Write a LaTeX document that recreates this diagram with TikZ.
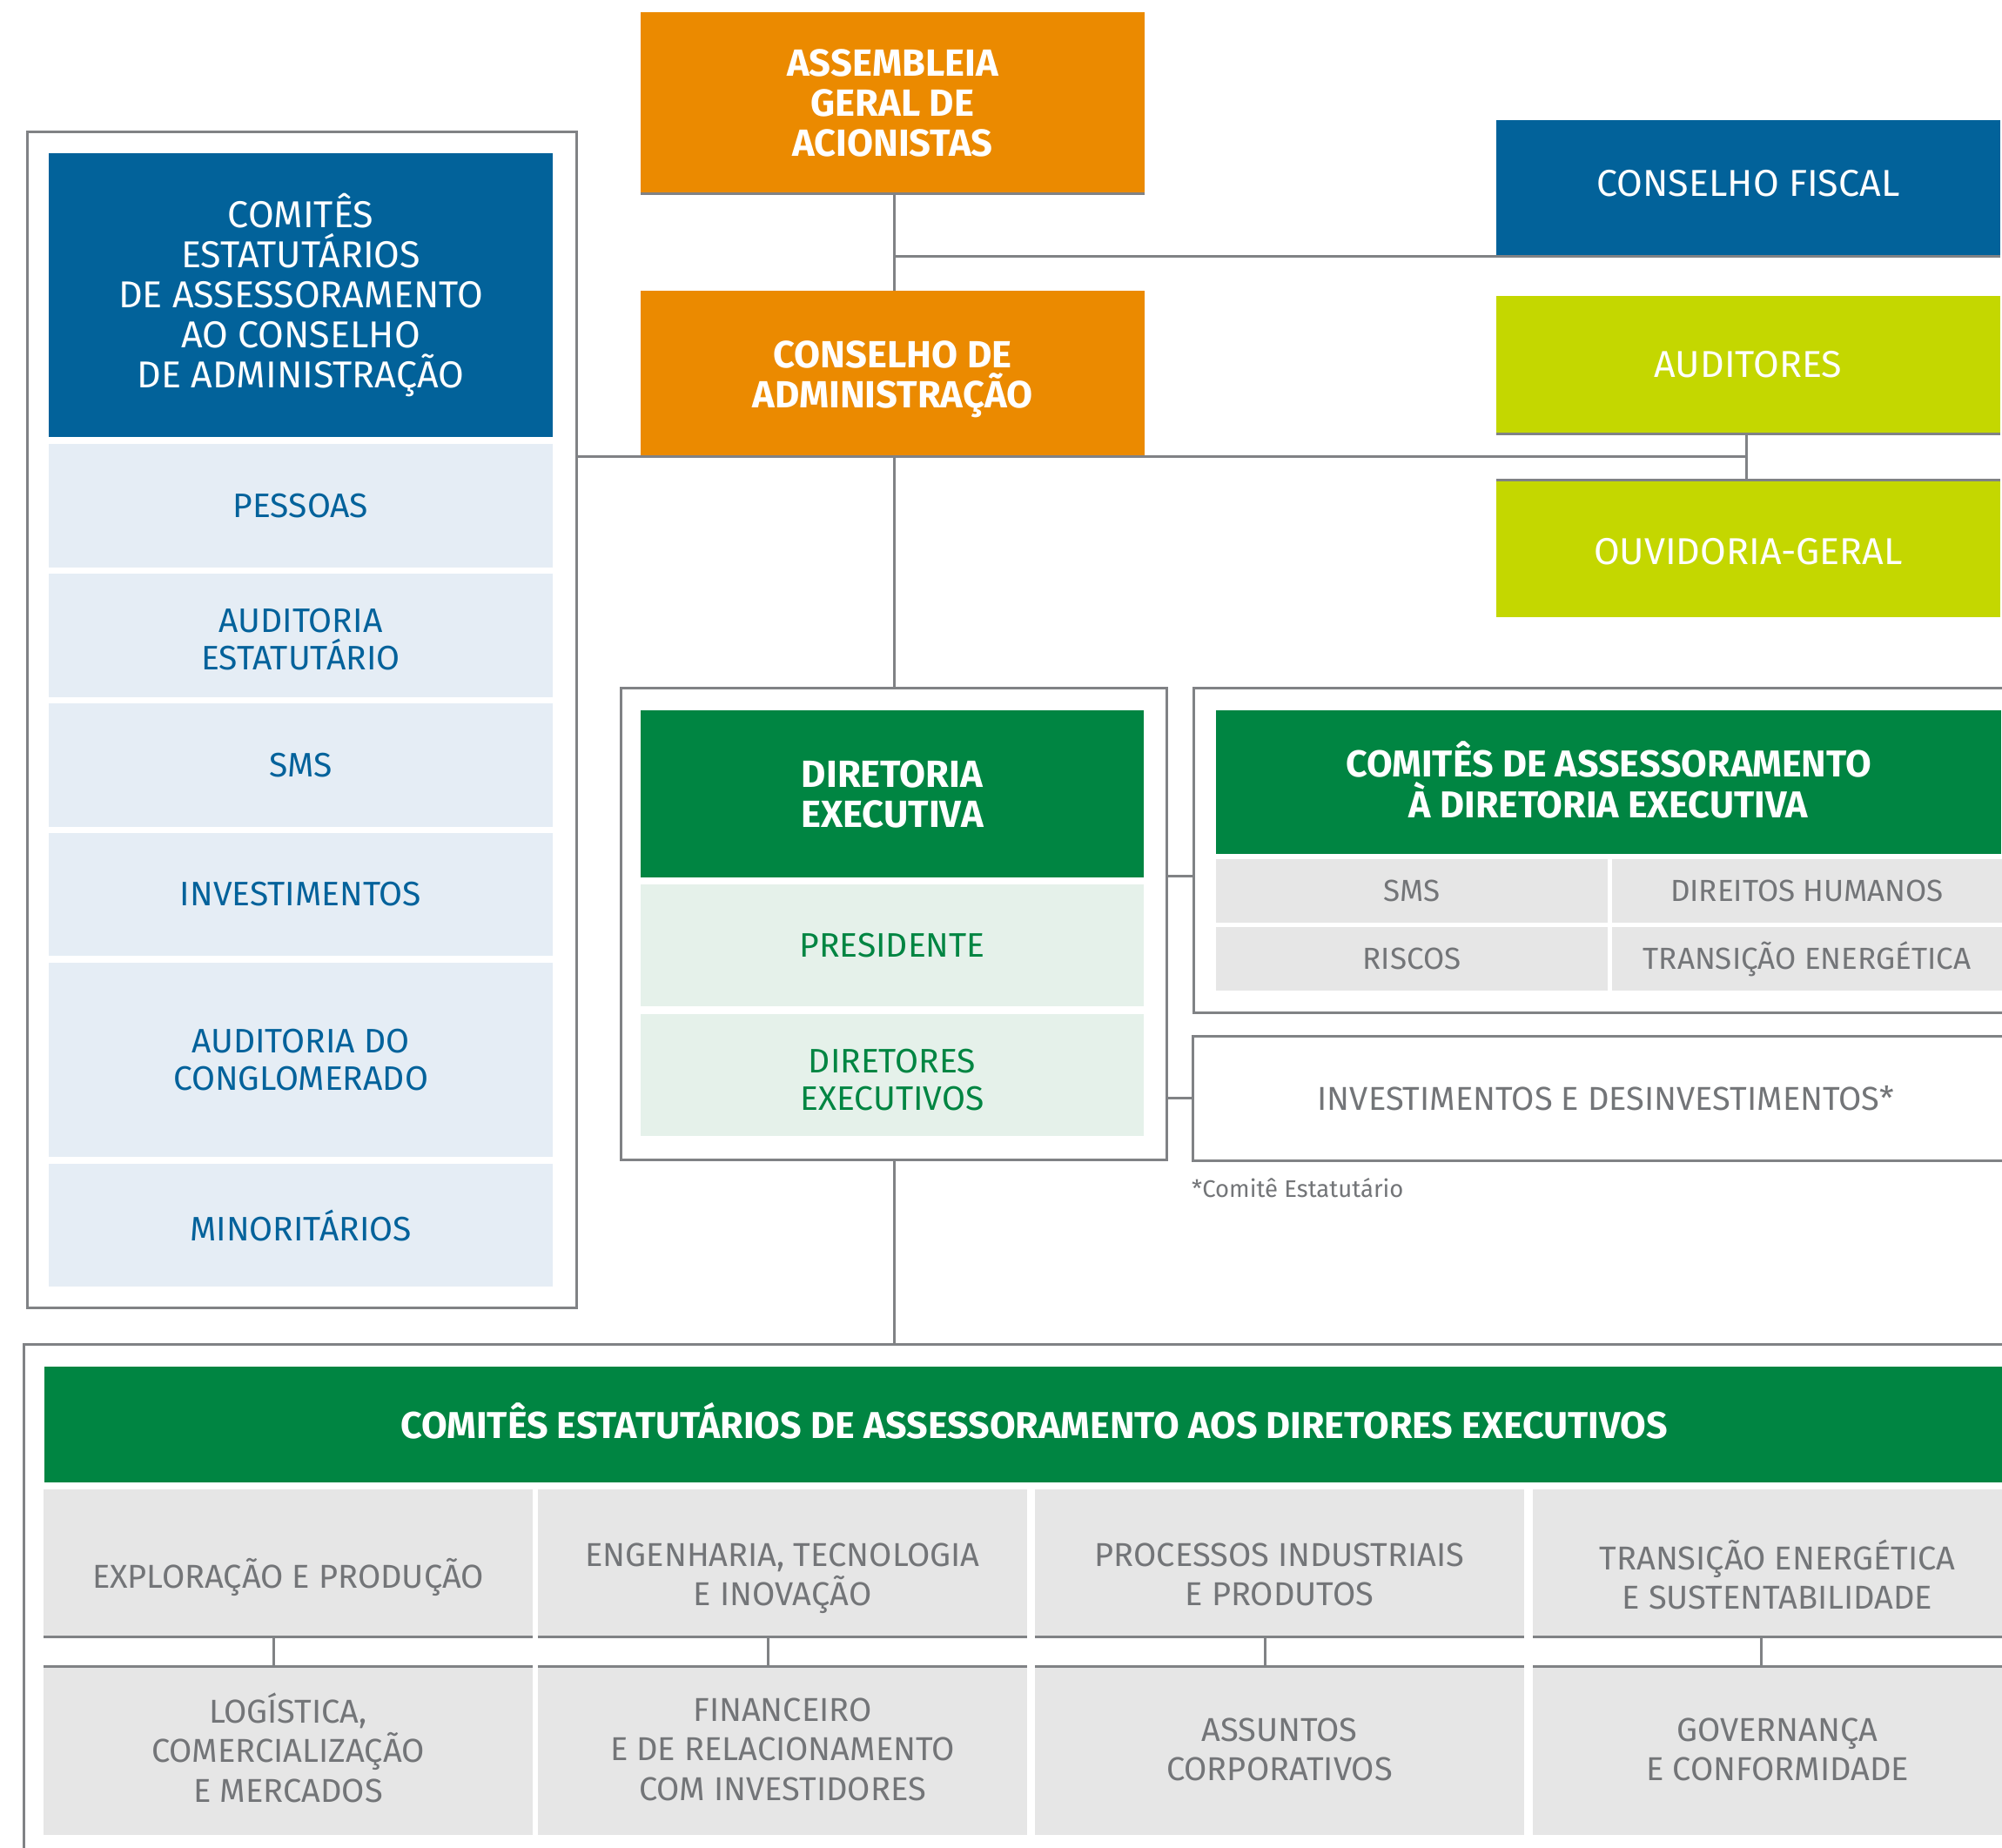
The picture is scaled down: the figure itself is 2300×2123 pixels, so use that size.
\documentclass[tikz,border=0pt]{standalone}
\usepackage{fontspec}
\setmainfont{Fira Sans}
\definecolor{orng}{HTML}{EB8A00}
\definecolor{dblue}{HTML}{02629A}
\definecolor{lime}{HTML}{C4D700}
\definecolor{pgreen}{HTML}{008542}
\definecolor{lblue}{HTML}{E5EDF5}
\definecolor{btext}{HTML}{03629B}
\definecolor{lgreen}{HTML}{E5F1EA}
\definecolor{lgray}{HTML}{E6E6E6}
\definecolor{gtext}{HTML}{737578}
\definecolor{lineg}{HTML}{808285}
\tikzset{
  gl/.style={draw=lineg, line width=3pt},
  cell/.style={rectangle, inner sep=0pt, align=center, draw=none},
  frame/.style={rectangle, draw=lineg, line width=3pt, inner sep=0pt},
  hdrB/.style={cell, text=white, font=\fontsize{43.5}{46}\selectfont\bfseries},
  hdrR/.style={cell, text=white, font=\fontsize{43}{46}\selectfont},
  bluecell/.style={cell, fill=lblue, text=btext, font=\fontsize{39}{43}\selectfont, minimum width=579pt},
  greencell/.style={cell, fill=lgreen, text=pgreen, font=\fontsize{39}{43}\selectfont, minimum width=578pt, minimum height=140pt},
  smallcell/.style={cell, fill=lgray, text=gtext, font=\fontsize{35}{40}\selectfont, minimum height=73pt},
  botcell/.style={cell, fill=lgray, minimum width=562pt},
  bottxt/.style={cell, text=gtext, font=\fontsize{38}{45.5}\selectfont,
    execute at begin node=\vphantom{ÉÇ}, execute at end node=\vphantom{ÉÇ}},
  wtxt/.style={cell, text=white},
}
\begin{document}
\begin{tikzpicture}[x=1pt,y=-1pt]
\useasboundingbox (0,0) rectangle (2300,2123);
\clip (0,0) rectangle (2300,2123);
\fill[white] (0,0) rectangle (2300,2123);

% ---------- left column ----------
\node[frame, minimum width=631pt, minimum height=1351pt] (lbox) at (346.5,826.5) {};
\node[hdrR, fill=dblue, minimum width=579pt, minimum height=326pt] (lhead) at (345.5,339)
  {COMITÊS\\ESTATUTÁRIOS\\DE ASSESSORAMENTO\\AO CONSELHO\\DE ADMINISTRAÇÃO};
\node[bluecell, minimum height=142pt] (pess) at (345.5,581) {PESSOAS};
\node[bluecell, minimum height=142pt] (audest) at (345.5,730) {};
\node[cell, text=btext, font=\fontsize{39}{43}\selectfont] (audestt) at (345.5,735) {AUDITORIA\\ESTATUTÁRIO};
\node[bluecell, minimum height=142pt] (smsl) at (345.5,879) {SMS};
\node[bluecell, minimum height=141pt] (invl) at (345.5,1027.5) {INVESTIMENTOS};
\node[bluecell, minimum height=223pt] (audcong) at (345.5,1217.5) {AUDITORIA DO\\CONGLOMERADO};
\node[bluecell, minimum height=141pt] (minor) at (345.5,1407.5) {MINORITÁRIOS};

% ---------- centre top ----------
\node[hdrB, fill=orng, minimum width=579pt, minimum height=208pt] (ag) at (1025.5,118)
  {ASSEMBLEIA\\GERAL DE\\ACIONISTAS};
\node[hdrB, fill=orng, minimum width=579pt, minimum height=190pt] (ca) at (1025.5,429) {};
\node[wtxt, font=\fontsize{43.5}{46}\selectfont\bfseries] (cat) at (1025.5,436) {CONSELHO DE\\ADMINISTRAÇÃO};

% ---------- right top ----------
\node[hdrR, fill=dblue, minimum width=579pt, minimum height=156pt] (cf) at (2008.5,216) {};
\node[wtxt, font=\fontsize{43}{46}\selectfont] (cft) at (2008.5,211) {CONSELHO FISCAL};
\node[hdrR, fill=lime, minimum width=579pt, minimum height=158pt] (aud) at (2008.5,419) {AUDITORES};
\node[hdrR, fill=lime, minimum width=579pt, minimum height=157pt] (ouv) at (2008.5,630.5) {};
\node[wtxt, font=\fontsize{43}{46}\selectfont] (ouvt) at (2008.5,634) {OUVIDORIA-GERAL};

% ---------- diretoria ----------
\node[frame, minimum width=627pt, minimum height=542pt] (dbox) at (1026.5,1061) {};
\node[hdrB, fill=pgreen, minimum width=578pt, minimum height=192pt] (dhead) at (1025,912)
  {DIRETORIA\\EXECUTIVA};
\node[greencell] (pres) at (1025,1086) {PRESIDENTE};
\node[greencell] (dirs) at (1025,1235) {};
\node[cell, text=pgreen, font=\fontsize{39}{43}\selectfont] (dirst) at (1025,1241) {DIRETORES\\EXECUTIVOS};

% ---------- comites da diretoria ----------
\node[frame, minimum width=959pt, minimum height=373pt] (cbox) at (1850.5,976.5) {};
\node[hdrB, fill=pgreen, minimum width=902pt, minimum height=165pt] (chead) at (1848,898.5) {};
\node[wtxt, font=\fontsize{43}{46.5}\selectfont\bfseries] (cheadt) at (1848,896)
  {COMITÊS DE ASSESSORAMENTO\\À DIRETORIA EXECUTIVA};
\node[smallcell, minimum width=450pt] (csms) at (1622,1023.5) {SMS};
\node[smallcell, minimum width=448pt] (cdh) at (2076,1023.5) {DIREITOS HUMANOS};
\node[smallcell, minimum width=450pt] (cris) at (1622,1101.5) {RISCOS};
\node[smallcell, minimum width=448pt] (cte) at (2076,1101.5) {TRANSIÇÃO ENERGÉTICA};

\node[frame, minimum width=950pt, minimum height=143pt, text=gtext, font=\fontsize{38}{43}\selectfont] (idbox) at (1845,1261.5)
  {INVESTIMENTOS E DESINVESTIMENTOS*};
\node[anchor=west, inner sep=0pt, text=gtext, font=\fontsize{27.5}{32}\selectfont] (fn) at (1369,1365) {*Comitê Estatutário};

% ---------- bottom ----------
\node[frame, minimum width=2400pt, minimum height=700pt] (bbox) at (1227,1894) {};
\node[hdrB, fill=pgreen, minimum width=2274pt, minimum height=133pt] (bhead) at (1188,1636.5) {};
\node[wtxt, font=\fontsize{43}{46}\selectfont\bfseries] (bheadt) at (1188,1632)
  {COMITÊS ESTATUTÁRIOS DE ASSESSORAMENTO AOS DIRETORES EXECUTIVOS};
\node[botcell, minimum height=169pt] (b1) at (331,1795.5) {};
\node[botcell, minimum height=169pt] (b2) at (899,1795.5) {};
\node[botcell, minimum height=169pt] (b3) at (1470,1795.5) {};
\node[botcell, minimum height=169pt] (b4) at (2042,1795.5) {};
\node[bottxt] (b1t) at (331,1812) {EXPLORAÇÃO E PRODUÇÃO};
\node[bottxt] (b2t) at (899,1813) {ENGENHARIA, TECNOLOGIA\\E INOVAÇÃO};
\node[bottxt] (b3t) at (1470,1813) {PROCESSOS INDUSTRIAIS\\E PRODUTOS};
\node[bottxt] (b4t) at (2042,1813) {TRANSIÇÃO ENERGÉTICA\\E SUSTENTABILIDADE};
\node[botcell, minimum height=193pt] (c1) at (331,2011.5) {};
\node[botcell, minimum height=193pt] (c2) at (899,2011.5) {};
\node[botcell, minimum height=193pt] (c3) at (1470,2011.5) {};
\node[botcell, minimum height=193pt] (c4) at (2042,2011.5) {};
\node[bottxt] (c1t) at (331,2012) {LOGÍSTICA,\\COMERCIALIZAÇÃO\\E MERCADOS};
\node[bottxt] (c2t) at (899,2014) {FINANCEIRO\\E DE RELACIONAMENTO\\COM INVESTIDORES};
\node[bottxt] (c3t) at (1470,2014) {ASSUNTOS\\CORPORATIVOS};
\node[bottxt] (c4t) at (2042,2014) {GOVERNANÇA\\E CONFORMIDADE};

% ---------- box rules ----------
\draw[gl] (ag.south west) -- (ag.south east);
\draw[gl] (aud.south west) -- (aud.south east);
\draw[gl] (ouv.north west) -- (ouv.north east);
\foreach \n in {b1,b2,b3,b4}{\draw[gl] (\n.south west) -- (\n.south east);}
\foreach \n in {c1,c2,c3,c4}{\draw[gl] (\n.north west) -- (\n.north east);}

% ---------- connectors ----------
\coordinate (agx) at (1027,222);
\draw[gl] (agx) -- (agx |- ca.north);
\draw[gl] (agx |- cf.south) -- (cf.south east);
\coordinate (audx) at (2006,498);
\draw[gl] (lbox.east |- ca.south) -- (audx |- ca.south);
\draw[gl] (audx) -- (audx |- ouv.north);
\draw[gl] (agx |- ca.south) -- (agx |- dbox.north);
\draw[gl] (agx |- dbox.south) -- (agx |- bbox.north);
\draw[gl] (dbox.east |- 0,1006) -- (cbox.west |- 0,1006);
\draw[gl] (dbox.east |- idbox.west) -- (idbox.west);
\foreach \x in {314,882,1453,2023}{
  \draw[gl] (\x,1880) -- (\x,1915);
}
\end{tikzpicture}
\end{document}
